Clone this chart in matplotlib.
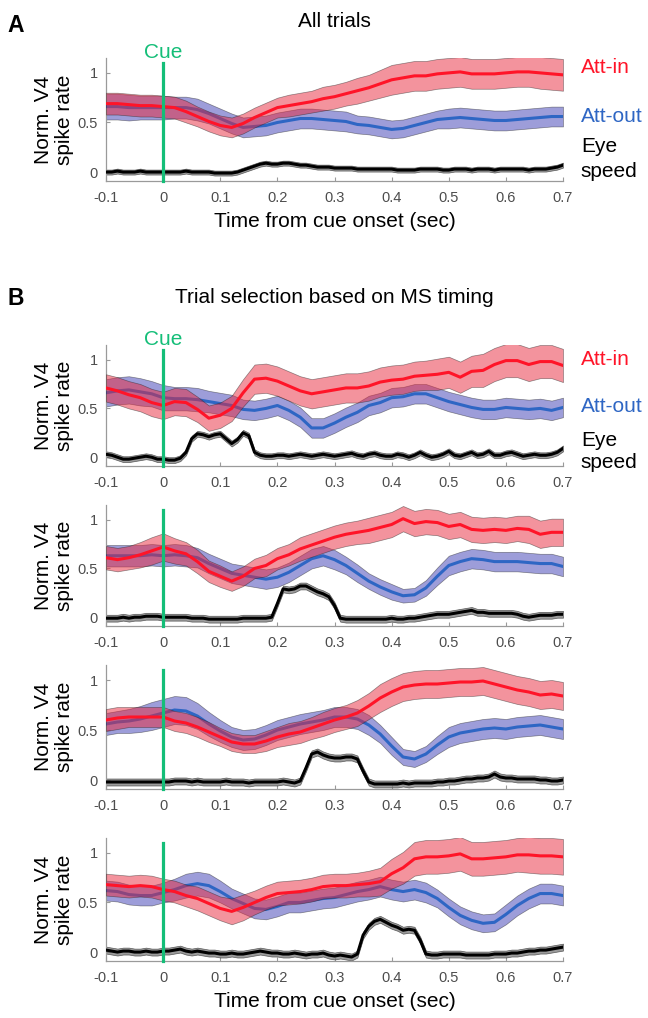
import matplotlib.pyplot as plt
import matplotlib.transforms as mtransforms
import numpy as np

plt.rcParams["font.family"] = ["Liberation Sans", "DejaVu Sans"]

# time bins (sec): rates every 20 ms, eye speed every 10 ms
t = np.round(np.arange(-0.1, 0.7001, 0.02), 2)
t_eye = np.round(np.arange(-0.1, 0.7001, 0.01), 2)

xticks = [-0.1, 0, 0.1, 0.2, 0.3, 0.4, 0.5, 0.6, 0.7]
xtick_labels = ["-0.1", "0", "0.1", "0.2", "0.3", "0.4", "0.5", "0.6", "0.7"]
yticks = [0, 0.5, 1]
ytick_labels = ["0", "0.5", "1"]

# ---- A: all trials ----
a_in = [0.69, 0.69, 0.68, 0.67, 0.67, 0.66, 0.65, 0.61, 0.56, 0.51,
        0.47, 0.45, 0.49, 0.55, 0.60, 0.65, 0.67, 0.69, 0.71, 0.74,
        0.76, 0.79, 0.82, 0.85, 0.89, 0.93, 0.95, 0.97, 0.97, 0.99,
        1.00, 1.01, 0.99, 0.99, 0.99, 1.00, 1.01, 1.01, 1.00, 0.99, 0.98]
a_in_e = [0.11, 0.11, 0.11, 0.11, 0.11, 0.11, 0.11, 0.11, 0.10, 0.10,
          0.10, 0.10, 0.10, 0.10, 0.10, 0.10, 0.11, 0.11, 0.11, 0.12,
          0.12, 0.12, 0.13, 0.13, 0.14, 0.15, 0.15, 0.15, 0.15, 0.15,
          0.15, 0.15, 0.15, 0.15, 0.15, 0.15, 0.15, 0.15, 0.16, 0.16, 0.16]
a_out = [0.66, 0.66, 0.65, 0.65, 0.65, 0.65, 0.65, 0.65, 0.63, 0.59,
         0.54, 0.49, 0.45, 0.46, 0.47, 0.50, 0.52, 0.54, 0.54, 0.53,
         0.52, 0.51, 0.48, 0.47, 0.45, 0.43, 0.44, 0.47, 0.50, 0.53,
         0.54, 0.55, 0.54, 0.53, 0.52, 0.52, 0.53, 0.54, 0.55, 0.56, 0.56]
a_out_e = [0.13, 0.13, 0.13, 0.12, 0.12, 0.12, 0.11, 0.11, 0.11, 0.10,
           0.10, 0.10, 0.10, 0.10, 0.10, 0.10, 0.10, 0.10, 0.10, 0.10,
           0.10, 0.10, 0.09, 0.09, 0.09, 0.09, 0.09, 0.09, 0.09, 0.09,
           0.10, 0.10, 0.10, 0.10, 0.10, 0.10, 0.10, 0.10, 0.10, 0.10, 0.10]
a_eye = [0.00, 0.00, 0.01, 0.00, 0.00, 0.00, 0.01, 0.00, 0.00, 0.00, 0.00,
         0.00, 0.00, 0.00, 0.01, 0.00, 0.00, 0.00, 0.00, -0.01, -0.01,
         -0.01, -0.01, 0.00, 0.02, 0.04, 0.06, 0.08, 0.09, 0.08, 0.08,
         0.09, 0.09, 0.08, 0.07, 0.07, 0.06, 0.05, 0.05, 0.05, 0.04,
         0.04, 0.04, 0.04, 0.03, 0.03, 0.03, 0.03, 0.03, 0.03, 0.03,
         0.02, 0.02, 0.02, 0.02, 0.03, 0.03, 0.03, 0.03, 0.02, 0.02,
         0.03, 0.03, 0.03, 0.02, 0.03, 0.03, 0.03, 0.02, 0.03, 0.03,
         0.03, 0.03, 0.03, 0.02, 0.03, 0.03, 0.03, 0.04, 0.05, 0.07]

# ---- B1: MS 50-150 ms ----
b1_in = [0.71, 0.68, 0.64, 0.61, 0.56, 0.53, 0.57, 0.56, 0.49, 0.40,
         0.43, 0.50, 0.66, 0.80, 0.81, 0.78, 0.73, 0.68, 0.65, 0.67,
         0.69, 0.71, 0.71, 0.73, 0.77, 0.79, 0.80, 0.83, 0.84, 0.85,
         0.87, 0.82, 0.88, 0.89, 0.95, 0.99, 0.99, 0.95, 0.98, 0.98, 0.94]
b1_in_e = [0.14, 0.14, 0.14, 0.14, 0.14, 0.14, 0.14, 0.14, 0.13, 0.13,
           0.13, 0.13, 0.14, 0.15, 0.15, 0.15, 0.15, 0.15, 0.15, 0.15,
           0.15, 0.15, 0.15, 0.15, 0.15, 0.15, 0.15, 0.15, 0.15, 0.16,
           0.16, 0.16, 0.16, 0.17, 0.17, 0.17, 0.17, 0.17, 0.17, 0.17, 0.17]
b1_out = [0.66, 0.68, 0.69, 0.67, 0.65, 0.61, 0.60, 0.60, 0.59, 0.57,
          0.55, 0.53, 0.49, 0.48, 0.50, 0.53, 0.48, 0.41, 0.30, 0.30,
          0.35, 0.41, 0.46, 0.53, 0.56, 0.61, 0.62, 0.65, 0.65, 0.61,
          0.57, 0.54, 0.51, 0.49, 0.49, 0.51, 0.50, 0.49, 0.50, 0.48, 0.51]
b1_out_e = [0.14, 0.14, 0.14, 0.14, 0.13, 0.13, 0.12, 0.12, 0.12, 0.11,
            0.11, 0.11, 0.10, 0.10, 0.10, 0.10, 0.10, 0.10, 0.10, 0.10,
            0.10, 0.10, 0.10, 0.10, 0.10, 0.10, 0.10, 0.10, 0.10, 0.10,
            0.10, 0.10, 0.10, 0.10, 0.10, 0.10, 0.10, 0.10, 0.10, 0.10, 0.10]
b1_eye = [0.03, 0.02, 0.00, -0.02, -0.02, -0.01, 0.00, 0.01, 0.00, -0.02, -0.02,
          -0.03, -0.03, -0.01, 0.05, 0.19, 0.24, 0.23, 0.21, 0.23, 0.24,
          0.19, 0.14, 0.18, 0.25, 0.22, 0.05, 0.02, 0.01, 0.01, 0.02,
          0.02, 0.01, 0.02, 0.03, 0.02, 0.01, 0.02, 0.03, 0.02, 0.01,
          0.02, 0.03, 0.04, 0.02, 0.01, 0.03, 0.04, 0.02, 0.01, 0.01,
          0.03, 0.02, 0.00, 0.02, 0.05, 0.02, 0.00, 0.01, 0.03, 0.06,
          0.02, 0.01, 0.03, 0.05, 0.02, 0.03, 0.06, 0.02, 0.02, 0.04,
          0.05, 0.03, 0.01, 0.02, 0.03, 0.02, 0.02, 0.03, 0.05, 0.09]

# ---- B2: MS 200-300 ms ----
b2_in = [0.61, 0.59, 0.61, 0.64, 0.68, 0.72, 0.68, 0.65, 0.57, 0.47,
         0.42, 0.37, 0.42, 0.50, 0.53, 0.60, 0.64, 0.70, 0.74, 0.78,
         0.82, 0.85, 0.87, 0.89, 0.92, 0.95, 1.01, 0.96, 0.98, 0.97,
         0.93, 0.95, 0.90, 0.89, 0.90, 0.89, 0.91, 0.90, 0.85, 0.87, 0.87]
b2_in_e = [0.12, 0.12, 0.12, 0.13, 0.14, 0.14, 0.13, 0.12, 0.12, 0.11,
           0.11, 0.10, 0.10, 0.10, 0.11, 0.11, 0.11, 0.12, 0.12, 0.12,
           0.12, 0.12, 0.12, 0.13, 0.13, 0.13, 0.13, 0.13, 0.13, 0.13,
           0.13, 0.13, 0.13, 0.13, 0.13, 0.13, 0.13, 0.14, 0.14, 0.14, 0.14]
b2_out = [0.63, 0.63, 0.63, 0.63, 0.64, 0.63, 0.64, 0.63, 0.61, 0.55,
          0.50, 0.45, 0.43, 0.41, 0.39, 0.41, 0.46, 0.53, 0.60, 0.63,
          0.59, 0.53, 0.45, 0.37, 0.31, 0.26, 0.22, 0.23, 0.30, 0.42,
          0.53, 0.57, 0.60, 0.59, 0.57, 0.57, 0.57, 0.56, 0.55, 0.55, 0.52]
b2_out_e = [0.11, 0.11, 0.11, 0.11, 0.11, 0.11, 0.11, 0.11, 0.10, 0.10,
            0.10, 0.10, 0.10, 0.10, 0.10, 0.10, 0.10, 0.10, 0.10, 0.10,
            0.10, 0.09, 0.09, 0.08, 0.08, 0.08, 0.07, 0.07, 0.08, 0.09,
            0.10, 0.10, 0.10, 0.10, 0.10, 0.10, 0.10, 0.10, 0.10, 0.10, 0.10]
b2_eye = [-0.01, -0.01, -0.01, 0.00, -0.01, 0.00, 0.00, 0.01, 0.01, 0.01, 0.00,
          0.00, 0.00, 0.00, 0.00, -0.01, -0.01, -0.01, -0.02, -0.02, -0.02,
          -0.02, -0.02, -0.02, -0.01, -0.01, -0.01, -0.01, -0.01, 0.00, 0.14,
          0.29, 0.28, 0.29, 0.32, 0.32, 0.29, 0.26, 0.24, 0.21, 0.12,
          -0.01, -0.02, -0.02, -0.02, -0.02, -0.02, -0.02, -0.02, -0.02, -0.01,
          -0.02, -0.02, -0.01, -0.01, 0.00, 0.01, 0.02, 0.03, 0.03, 0.03,
          0.04, 0.05, 0.06, 0.07, 0.05, 0.05, 0.04, 0.04, 0.04, 0.04,
          0.04, 0.03, 0.01, 0.00, 0.01, 0.02, 0.02, 0.02, 0.03, 0.03]

# ---- B3: MS 250-350 ms ----
b3_in = [0.60, 0.62, 0.63, 0.63, 0.63, 0.63, 0.59, 0.57, 0.53, 0.48,
         0.43, 0.38, 0.36, 0.36, 0.39, 0.43, 0.46, 0.48, 0.52, 0.56,
         0.60, 0.63, 0.67, 0.74, 0.82, 0.88, 0.93, 0.95, 0.96, 0.96,
         0.97, 0.98, 0.98, 0.99, 0.96, 0.93, 0.90, 0.88, 0.85, 0.86, 0.84]
b3_in_e = [0.11, 0.11, 0.10, 0.10, 0.10, 0.10, 0.10, 0.10, 0.10, 0.10,
           0.09, 0.09, 0.09, 0.09, 0.10, 0.10, 0.11, 0.11, 0.11, 0.12,
           0.12, 0.12, 0.13, 0.13, 0.14, 0.14, 0.14, 0.14, 0.14, 0.14,
           0.14, 0.14, 0.14, 0.14, 0.14, 0.14, 0.14, 0.14, 0.14, 0.14, 0.14]
b3_out = [0.56, 0.58, 0.59, 0.61, 0.64, 0.67, 0.70, 0.69, 0.64, 0.56,
          0.49, 0.43, 0.40, 0.41, 0.45, 0.50, 0.53, 0.56, 0.58, 0.60,
          0.63, 0.63, 0.61, 0.55, 0.46, 0.34, 0.23, 0.21, 0.26, 0.35,
          0.43, 0.47, 0.49, 0.51, 0.52, 0.51, 0.53, 0.54, 0.55, 0.53, 0.51]
b3_out_e = [0.11, 0.11, 0.12, 0.13, 0.14, 0.14, 0.14, 0.14, 0.13, 0.12,
            0.11, 0.10, 0.10, 0.10, 0.10, 0.10, 0.10, 0.10, 0.10, 0.10,
            0.10, 0.10, 0.10, 0.10, 0.09, 0.09, 0.08, 0.08, 0.08, 0.09,
            0.10, 0.10, 0.10, 0.10, 0.10, 0.10, 0.10, 0.10, 0.10, 0.10, 0.10]
b3_eye = [-0.02, -0.02, -0.02, -0.02, -0.02, -0.02, -0.02, -0.02, -0.02, -0.02, -0.02,
          -0.02, -0.01, -0.01, -0.01, -0.02, -0.01, -0.02, -0.02, -0.02, -0.02,
          -0.01, -0.02, -0.02, -0.02, -0.03, -0.02, -0.02, -0.02, -0.02, -0.02,
          -0.01, -0.02, -0.03, -0.01, 0.12, 0.26, 0.28, 0.25, 0.23, 0.22,
          0.22, 0.23, 0.23, 0.21, 0.09, -0.02, -0.04, -0.04, -0.04, -0.04,
          -0.04, -0.03, -0.04, -0.03, -0.03, -0.03, -0.03, -0.02, -0.02, -0.01,
          -0.01, 0.00, 0.01, 0.01, 0.02, 0.02, 0.03, 0.06, 0.03, 0.02,
          0.02, 0.01, 0.01, 0.01, 0.01, 0.00, 0.00, -0.01, -0.01, 0.00]

# ---- B4: MS 350-450 ms ----
b4_in = [0.68, 0.67, 0.66, 0.67, 0.66, 0.63, 0.61, 0.57, 0.54, 0.49,
         0.44, 0.41, 0.45, 0.50, 0.55, 0.59, 0.60, 0.61, 0.63, 0.66,
         0.67, 0.67, 0.68, 0.69, 0.71, 0.79, 0.85, 0.94, 0.96, 0.96,
         0.97, 0.99, 0.94, 0.94, 0.95, 0.96, 0.98, 0.98, 0.97, 0.97, 0.96]
b4_in_e = [0.11, 0.11, 0.11, 0.11, 0.11, 0.11, 0.11, 0.11, 0.12, 0.12,
           0.12, 0.13, 0.13, 0.12, 0.12, 0.12, 0.12, 0.12, 0.12, 0.12,
           0.12, 0.12, 0.12, 0.13, 0.14, 0.15, 0.16, 0.17, 0.17, 0.17,
           0.17, 0.17, 0.17, 0.17, 0.17, 0.17, 0.17, 0.18, 0.18, 0.18, 0.18]
b4_out = [0.62, 0.61, 0.58, 0.57, 0.57, 0.60, 0.63, 0.67, 0.69, 0.67,
          0.61, 0.54, 0.49, 0.44, 0.43, 0.46, 0.50, 0.50, 0.52, 0.54,
          0.55, 0.58, 0.61, 0.63, 0.66, 0.63, 0.61, 0.63, 0.60, 0.54,
          0.45, 0.37, 0.32, 0.29, 0.30, 0.38, 0.47, 0.54, 0.59, 0.59, 0.57]
b4_out_e = [0.10, 0.10, 0.10, 0.10, 0.10, 0.10, 0.11, 0.12, 0.12, 0.12,
            0.11, 0.10, 0.10, 0.10, 0.10, 0.10, 0.10, 0.10, 0.10, 0.10,
            0.10, 0.10, 0.10, 0.10, 0.10, 0.10, 0.10, 0.10, 0.10, 0.09,
            0.09, 0.09, 0.09, 0.09, 0.09, 0.10, 0.10, 0.10, 0.10, 0.10, 0.10]
b4_eye = [0.02, 0.01, 0.00, 0.01, 0.01, 0.00, 0.00, 0.01, 0.00, 0.00, 0.01,
          0.01, 0.02, 0.03, 0.01, 0.00, 0.01, 0.00, -0.01, -0.01, -0.02,
          -0.02, -0.01, -0.02, -0.02, -0.01, 0.00, 0.01, 0.00, -0.01, -0.01,
          -0.02, -0.02, -0.01, -0.02, -0.03, -0.02, -0.02, -0.01, -0.03, -0.04,
          -0.03, -0.04, -0.05, -0.02, 0.17, 0.26, 0.31, 0.33, 0.30, 0.27,
          0.25, 0.22, 0.23, 0.22, 0.12, -0.02, -0.03, -0.03, -0.02, -0.02,
          -0.02, -0.02, -0.03, -0.03, -0.03, -0.03, -0.03, -0.02, -0.02, -0.02,
          -0.01, -0.01, 0.00, 0.01, 0.01, 0.02, 0.02, 0.03, 0.04, 0.05]

eye_sem = [0.025, 0.03, 0.035, 0.035, 0.035]

panels = [
    (a_in, a_in_e, a_out, a_out_e, a_eye),
    (b1_in, b1_in_e, b1_out, b1_out_e, b1_eye),
    (b2_in, b2_in_e, b2_out, b2_out_e, b2_eye),
    (b3_in, b3_in_e, b3_out, b3_out_e, b3_eye),
    (b4_in, b4_in_e, b4_out, b4_out_e, b4_eye),
]

RED = "#FF1428"
RED_FILL = "#E8283C"
BLUE = "#2E66C4"
BLUE_FILL = "#3C3CB4"
CUE = "#14BE78"
AXC = "#9A9A9A"
TXC = "#4D4D4D"

W, H = 648, 1018
fig = plt.figure(figsize=(W / 100, H / 100), dpi=100)

# axes frame in pixels: (top, bottom)
frames = [(58, 181), (345, 466), (505, 626), (665, 789), (838, 961)]
left_px, right_px = 106, 563
ylim = (-0.09, 1.15)

axes = []
for k, (top, bot) in enumerate(frames):
    ax = fig.add_axes([left_px / W, 1 - bot / H, (right_px - left_px) / W, (bot - top) / H])
    r_in, r_in_e, r_out, r_out_e, eye = [np.asarray(v) for v in panels[k]]
    ee = eye_sem[k]

    ax.fill_between(t_eye, eye - ee, eye + ee, facecolor="#7A7A7A", alpha=0.75,
                    edgecolor="#333333", linewidth=0.5, zorder=2)
    ax.plot(t_eye, eye, color="black", linewidth=2.2, zorder=3)

    ax.fill_between(t, r_out - r_out_e, r_out + r_out_e, facecolor=BLUE_FILL, alpha=0.5,
                    edgecolor="#222222", linewidth=0.5, zorder=2)
    ax.plot(t, r_out, color=BLUE, linewidth=2.2, zorder=3)
    ax.fill_between(t, r_in - r_in_e, r_in + r_in_e, facecolor=RED_FILL, alpha=0.5,
                    edgecolor="#222222", linewidth=0.5, zorder=4)
    ax.plot(t, r_in, color=RED, linewidth=2.2, zorder=5)

    ax.plot([0, 0], [ylim[0], 1.1], color=CUE, linewidth=2.3, zorder=6, clip_on=False)

    ax.set_xlim(-0.1, 0.7)
    ax.set_ylim(*ylim)
    ax.set_xticks(xticks)
    ax.set_xticklabels(xtick_labels)
    ax.set_yticks(yticks)
    ax.set_yticklabels(ytick_labels)
    for side in ("top", "right"):
        ax.spines[side].set_visible(False)
    for side in ("left", "bottom"):
        ax.spines[side].set_color(AXC)
        ax.spines[side].set_linewidth(0.9)
    ax.tick_params(direction="in", length=3, width=0.8, color=AXC,
                   labelcolor=TXC, labelsize=10.5, pad=7.5)
    ax.tick_params(axis="y", pad=6)

    ax.text(-0.114, 0.5, "Norm. V4\nspike rate", transform=ax.transAxes,
            rotation=90, ha="center", va="center", fontsize=15,
            multialignment="center", linespacing=1.15)
    axes.append(ax)

# cue labels and trace names on the first panel of A and B
for ax, names_y in ((axes[0], (1.0, 0.50, 0.20, -0.05)),
                    (axes[1], (0.95, 0.46, 0.12, -0.11))):
    ax.text(0, 1.0, "Cue", transform=mtransforms.blended_transform_factory(ax.transData, ax.transAxes),
            ha="center", va="baseline", color=CUE, fontsize=15)
    tr = mtransforms.blended_transform_factory(ax.transAxes, ax.transData)
    ax.text(1.039, names_y[0], "Att-in", transform=tr, color=RED, fontsize=15, va="baseline")
    ax.text(1.039, names_y[1], "Att-out", transform=tr, color=BLUE, fontsize=15, va="baseline")
    ax.text(1.039, names_y[2], "Eye", transform=tr, color="black", fontsize=15, va="baseline")
    ax.text(1.039, names_y[3], "speed", transform=tr, color="black", fontsize=15, va="baseline")

for ax in (axes[0], axes[4]):
    ax.set_xlabel("Time from cue onset (sec)", fontsize=15, labelpad=5)

fig.text(16 / W, 1 - 32 / H, "A", fontsize=16.5, fontweight="bold", ha="center", va="baseline")
fig.text(334.5 / W, 1 - 27 / H, "All trials", fontsize=15, ha="center", va="baseline")
fig.text(16 / W, 1 - 305 / H, "B", fontsize=16.5, fontweight="bold", ha="center", va="baseline")
fig.text(334.5 / W, 1 - 303 / H, "Trial selection based on MS timing", fontsize=15,
         ha="center", va="baseline")

fig.savefig("out.png", dpi=100)
